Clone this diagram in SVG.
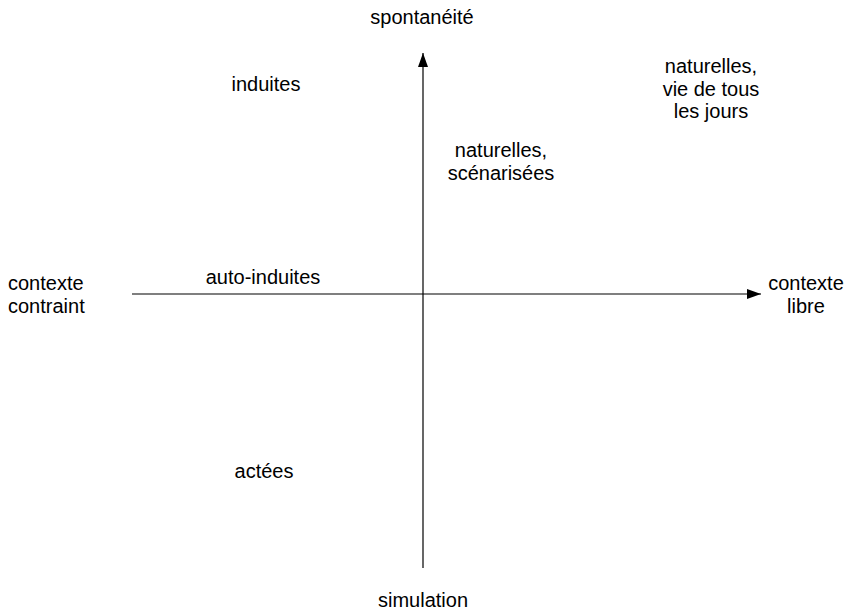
<svg xmlns="http://www.w3.org/2000/svg" width="850" height="610" viewBox="0 0 850 610">
<style>
text{font-family:"Liberation Sans",Arial,sans-serif;font-size:20px;fill:#000;text-anchor:middle}
.ax{stroke:#000;stroke-width:1.2;fill:none}
</style>
<defs>
<marker id="ah" markerWidth="14" markerHeight="10" refX="14" refY="5" orient="auto" markerUnits="userSpaceOnUse">
<path d="M0,0 L14,5 L0,10 Z" fill="#000"/>
</marker>
</defs>
<rect width="850" height="610" fill="#fff"/>
<g id="connectors">
<line class="ax" x1="423" y1="568" x2="423" y2="53" marker-end="url(#ah)"/>
<line class="ax" x1="132" y1="294" x2="761" y2="294" marker-end="url(#ah)"/>
</g>
<g id="spontaneite"><text x="422" y="24">spontanéité</text></g>
<g id="simulation"><text x="423" y="607">simulation</text></g>
<g id="contexte-contraint"><text x="8" y="290" style="text-anchor:start">contexte</text><text x="8" y="313" style="text-anchor:start">contraint</text></g>
<g id="contexte-libre"><text x="806" y="290">contexte</text><text x="806" y="313">libre</text></g>
<g id="induites"><text x="266" y="91">induites</text></g>
<g id="naturelles-vie"><text x="711" y="73">naturelles,</text><text x="711" y="96">vie de tous</text><text x="711" y="118">les jours</text></g>
<g id="naturelles-scen"><text x="501" y="157">naturelles,</text><text x="501" y="180">scénarisées</text></g>
<g id="auto-induites"><text x="263" y="284">auto-induites</text></g>
<g id="actees"><text x="264" y="478">actées</text></g>
</svg>
